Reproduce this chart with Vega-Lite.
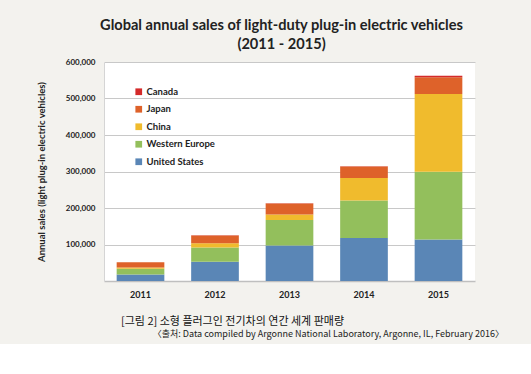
{
  "$schema": "https://vega.github.io/schema/vega-lite/v6.json",
  "background": "#F3F2EE",
  "padding": {"left": 36, "top": 18, "right": 28, "bottom": 5},
  "autosize": {"type": "pad"},
  "title": {
    "text": "〈출처: Data compiled by Argonne National Laboratory, Argonne, IL, February 2016〉",
    "orient": "bottom",
    "anchor": "end",
    "dx": 29,
    "offset": 4,
    "font": "Noto Sans CJK KR",
    "fontSize": 9,
    "fontWeight": "normal",
    "color": "#222222"
  },
  "vconcat": [
    {
      "width": 371,
      "height": 219,
      "title": {
        "text": ["Global annual sales of light-duty plug-in electric vehicles", "(2011 - 2015)"],
        "font": "Lato",
        "fontSize": 14.6,
        "fontWeight": "bold",
        "lineHeight": 19,
        "offset": 6,
        "dx": -8,
        "color": "#222222"
      },
      "data": {
        "values": [
          {"year": "2011", "region": "United States", "sales": 17500},
          {"year": "2011", "region": "Western Europe", "sales": 16000},
          {"year": "2011", "region": "China", "sales": 3500},
          {"year": "2011", "region": "Japan", "sales": 14500},
          {"year": "2011", "region": "Canada", "sales": 200},
          {"year": "2012", "region": "United States", "sales": 53000},
          {"year": "2012", "region": "Western Europe", "sales": 39000},
          {"year": "2012", "region": "China", "sales": 11500},
          {"year": "2012", "region": "Japan", "sales": 21500},
          {"year": "2012", "region": "Canada", "sales": 500},
          {"year": "2013", "region": "United States", "sales": 97500},
          {"year": "2013", "region": "Western Europe", "sales": 69500},
          {"year": "2013", "region": "China", "sales": 15000},
          {"year": "2013", "region": "Japan", "sales": 30000},
          {"year": "2013", "region": "Canada", "sales": 800},
          {"year": "2014", "region": "United States", "sales": 117500},
          {"year": "2014", "region": "Western Europe", "sales": 103000},
          {"year": "2014", "region": "China", "sales": 62000},
          {"year": "2014", "region": "Japan", "sales": 31000},
          {"year": "2014", "region": "Canada", "sales": 1000},
          {"year": "2015", "region": "United States", "sales": 114000},
          {"year": "2015", "region": "Western Europe", "sales": 185000},
          {"year": "2015", "region": "China", "sales": 213000},
          {"year": "2015", "region": "Japan", "sales": 46000},
          {"year": "2015", "region": "Canada", "sales": 4500}
        ]
      },
      "transform": [
        {"calculate": "indexof(['United States', 'Western Europe', 'China', 'Japan', 'Canada'], datum.region)", "as": "stackRank"}
      ],
      "mark": {"type": "bar"},
      "encoding": {
        "x": {
          "field": "year",
          "type": "ordinal",
          "scale": {"paddingInner": 0.36, "paddingOuter": 0.17},
          "axis": {
            "title": "[그림 2] 소형 플러그인 전기차의 연간 세계 판매량",
            "titleFont": "Noto Sans CJK KR",
            "titleFontSize": 11,
            "titleFontWeight": "normal",
            "titleColor": "#111111",
            "titlePadding": 16,
            "titleX": 128,
            "labelAngle": 0,
            "labelFont": "Lato",
            "labelFontWeight": "bold",
            "labelFontSize": 9,
            "labelColor": "#222222",
            "labelPadding": 9,
            "ticks": false,
            "domainColor": "#BFBFBF",
            "domainWidth": 1.5
          }
        },
        "y": {
          "field": "sales",
          "type": "quantitative",
          "stack": "zero",
          "scale": {"domain": [0, 600000]},
          "axis": {
            "values": [100000, 200000, 300000, 400000, 500000, 600000],
            "format": ",d",
            "title": "Annual sales (light plug-in electric vehicles)",
            "titleFont": "Lato",
            "titleFontSize": 9.5,
            "titleFontWeight": "bold",
            "titleColor": "#222222",
            "titlePadding": 19,
            "labelFont": "Lato",
            "labelFontWeight": "bold",
            "labelFontSize": 8,
            "labelColor": "#222222",
            "labelPadding": 9,
            "ticks": false,
            "domain": true,
            "domainColor": "#D5D5D5",
            "gridColor": "#C8C8C8",
            "gridWidth": 1
          }
        },
        "order": {"field": "stackRank", "type": "quantitative", "sort": "ascending"},
        "color": {
          "field": "region",
          "type": "nominal",
          "sort": ["Canada", "Japan", "China", "Western Europe", "United States"],
          "scale": {
            "domain": ["Canada", "Japan", "China", "Western Europe", "United States"],
            "range": ["#D42A2A", "#DE622A", "#F0BB2D", "#93BF5C", "#5A86B6"]
          },
          "legend": {
            "title": null,
            "orient": "none",
            "legendX": 30,
            "legendY": 25,
            "symbolType": "square",
            "symbolSize": 45,
            "symbolStrokeWidth": 0,
            "labelFont": "Lato",
            "labelFontWeight": "bold",
            "labelFontSize": 9.5,
            "labelColor": "#222222",
            "labelOffset": 3,
            "rowPadding": 6.5
          }
        }
      }
    }
  ],
  "config": {"view": {"fill": "white", "stroke": null}}
}
